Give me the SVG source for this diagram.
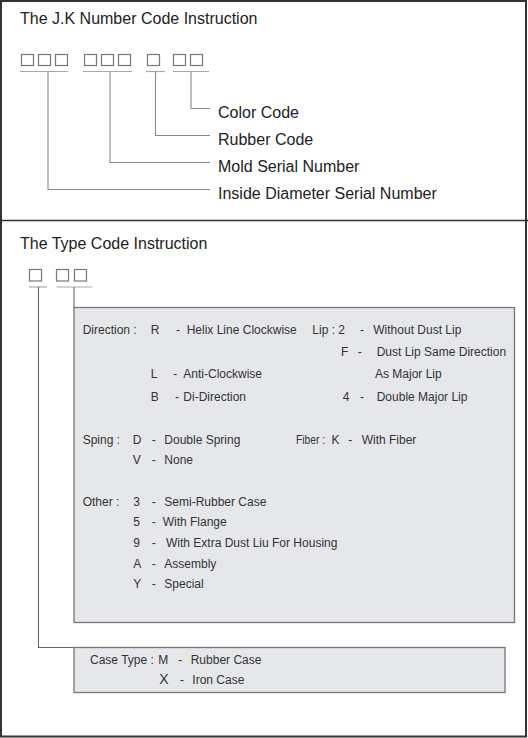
<svg xmlns="http://www.w3.org/2000/svg" width="528" height="738" viewBox="0 0 528 738">
<style>
text{font-family:"Liberation Sans",Arial,sans-serif;fill:#333}
.t{font-size:16px;fill:#222}
.s{font-size:12px}
.sq{fill:#fff;stroke:#777;stroke-width:1.2}
.ul{stroke:#aaa;stroke-width:1.2;fill:none}
.cn{stroke:#8a8a8a;stroke-width:1.1;fill:none}
.cd{stroke:#666;stroke-width:1.1;fill:none}
.box{fill:#e6e7ea;stroke:#777;stroke-width:1.3}
</style>
<rect x="1" y="1" width="525" height="735.5" fill="#fff" stroke="#333" stroke-width="2"/>
<line x1="0" y1="220.5" x2="528" y2="220.5" stroke="#333" stroke-width="1.5"/>

<g id="jk-title"><text class="t" x="20" y="23.5">The J.K Number Code Instruction</text></g>
<g id="jk-code">
<rect class="sq" x="21.5" y="54.5" width="12" height="11"/>
<rect class="sq" x="38.5" y="54.5" width="12" height="11"/>
<rect class="sq" x="55.5" y="54.5" width="12" height="11"/>
<rect class="sq" x="84.5" y="54.5" width="12" height="11"/>
<rect class="sq" x="101.5" y="54.5" width="12" height="11"/>
<rect class="sq" x="118.5" y="54.5" width="12" height="11"/>
<rect class="sq" x="147.5" y="54.5" width="12" height="11"/>
<rect class="sq" x="173.5" y="54.5" width="12" height="11"/>
<rect class="sq" x="190.5" y="54.5" width="12" height="11"/>
<line class="ul" x1="20" y1="71.5" x2="68" y2="71.5"/>
<line class="ul" x1="83" y1="71.5" x2="132" y2="71.5"/>
<line class="ul" x1="146" y1="71.5" x2="165" y2="71.5"/>
<line class="ul" x1="173" y1="71.5" x2="209" y2="71.5"/>
</g>
<g id="jk-labels">
<text class="t" x="218" y="117.5">Color Code</text>
<text class="t" x="218" y="144.5">Rubber Code</text>
<text class="t" x="218" y="171.5">Mold Serial Number</text>
<text class="t" x="218" y="198.5">Inside Diameter Serial Number</text>
</g>

<g id="type-title"><text class="t" x="20" y="248.5">The Type Code Instruction</text></g>
<g id="type-code">
<rect class="sq" x="29.5" y="269.5" width="12" height="11.5"/>
<rect class="sq" x="56.5" y="269.5" width="12" height="11.5"/>
<rect class="sq" x="74.5" y="269.5" width="12" height="11.5"/>
<line class="ul" x1="29" y1="287" x2="47" y2="287"/>
<line class="ul" x1="56.5" y1="287" x2="92.5" y2="287"/>
</g>

<g id="connectors">
<polyline class="cn" points="191,71.5 191,108.5 210,108.5"/>
<polyline class="cn" points="155.5,71.5 155.5,135.5 210,135.5"/>
<polyline class="cn" points="110,71.5 110,162.5 210,162.5"/>
<polyline class="cn" points="48,71.5 48,189.5 210,189.5"/>
<polyline class="cd" points="74,287 74,307.5"/>
<polyline class="cd" points="38.5,287 38.5,647.5 74,647.5"/>
</g>

<g id="main-box">
<rect class="box" x="74" y="307.5" width="440.5" height="315"/>
<text class="s" x="82.7" y="333.5">Direction :</text>
<text class="s" x="150.7" y="333.5">R</text>
<text class="s" x="176" y="333.5">-</text>
<text class="s" x="186.7" y="333.5">Helix Line Clockwise</text>
<text class="s" x="312.3" y="333.5">Lip : 2</text>
<text class="s" x="360" y="333.5">-</text>
<text class="s" x="373.3" y="333.5">Without Dust Lip</text>
<text class="s" x="341" y="355.5">F</text>
<text class="s" x="357.7" y="355.5">-</text>
<text class="s" x="376.7" y="355.5">Dust Lip Same Direction</text>
<text class="s" x="150.7" y="378">L</text>
<text class="s" x="173.3" y="378">-</text>
<text class="s" x="183.3" y="378">Anti-Clockwise</text>
<text class="s" x="375" y="378">As Major Lip</text>
<text class="s" x="150.7" y="401">B</text>
<text class="s" x="175" y="401">-</text>
<text class="s" x="183.3" y="401">Di-Direction</text>
<text class="s" x="342.7" y="401">4</text>
<text class="s" x="360" y="401">-</text>
<text class="s" x="376.7" y="401">Double Major Lip</text>

<text class="s" x="82.7" y="443.5">Sping :</text>
<text class="s" x="132.7" y="443.5">D</text>
<text class="s" x="151.7" y="443.5">-</text>
<text class="s" x="164.3" y="443.5">Double Spring</text>
<text class="s" x="296" y="443.5" textLength="29" lengthAdjust="spacingAndGlyphs">Fiber :</text>
<text class="s" x="331.5" y="443.5">K</text>
<text class="s" x="348.3" y="443.5">-</text>
<text class="s" x="361.7" y="443.5">With Fiber</text>
<text class="s" x="132.7" y="463.5">V</text>
<text class="s" x="151.7" y="463.5">-</text>
<text class="s" x="164.3" y="463.5">None</text>

<text class="s" x="82.7" y="505.5">Other :</text>
<text class="s" x="133.3" y="505.5">3</text>
<text class="s" x="151.7" y="505.5">-</text>
<text class="s" x="164.3" y="505.5">Semi-Rubber Case</text>
<text class="s" x="133.3" y="525.5">5</text>
<text class="s" x="151.7" y="525.5">-</text>
<text class="s" x="162.7" y="525.5">With Flange</text>
<text class="s" x="133.3" y="546.5">9</text>
<text class="s" x="151.7" y="546.5">-</text>
<text class="s" x="166" y="546.5">With Extra Dust Liu For Housing</text>
<text class="s" x="133.3" y="567.5">A</text>
<text class="s" x="151.7" y="567.5">-</text>
<text class="s" x="164.3" y="567.5">Assembly</text>
<text class="s" x="133.3" y="588">Y</text>
<text class="s" x="151.7" y="588">-</text>
<text class="s" x="164.3" y="588">Special</text>
</g>

<g id="case-box">
<rect class="box" x="74" y="647.5" width="431" height="45"/>
<text class="s" x="90" y="663.5">Case Type :</text>
<text class="s" x="158.3" y="663.5">M</text>
<text class="s" x="178.3" y="663.5">-</text>
<text class="s" x="190.7" y="663.5">Rubber Case</text>
<text x="159.3" y="684.3" font-size="14">X</text>
<text class="s" x="180" y="684.3">-</text>
<text class="s" x="192.3" y="684.3">Iron Case</text>
</g>
</svg>
